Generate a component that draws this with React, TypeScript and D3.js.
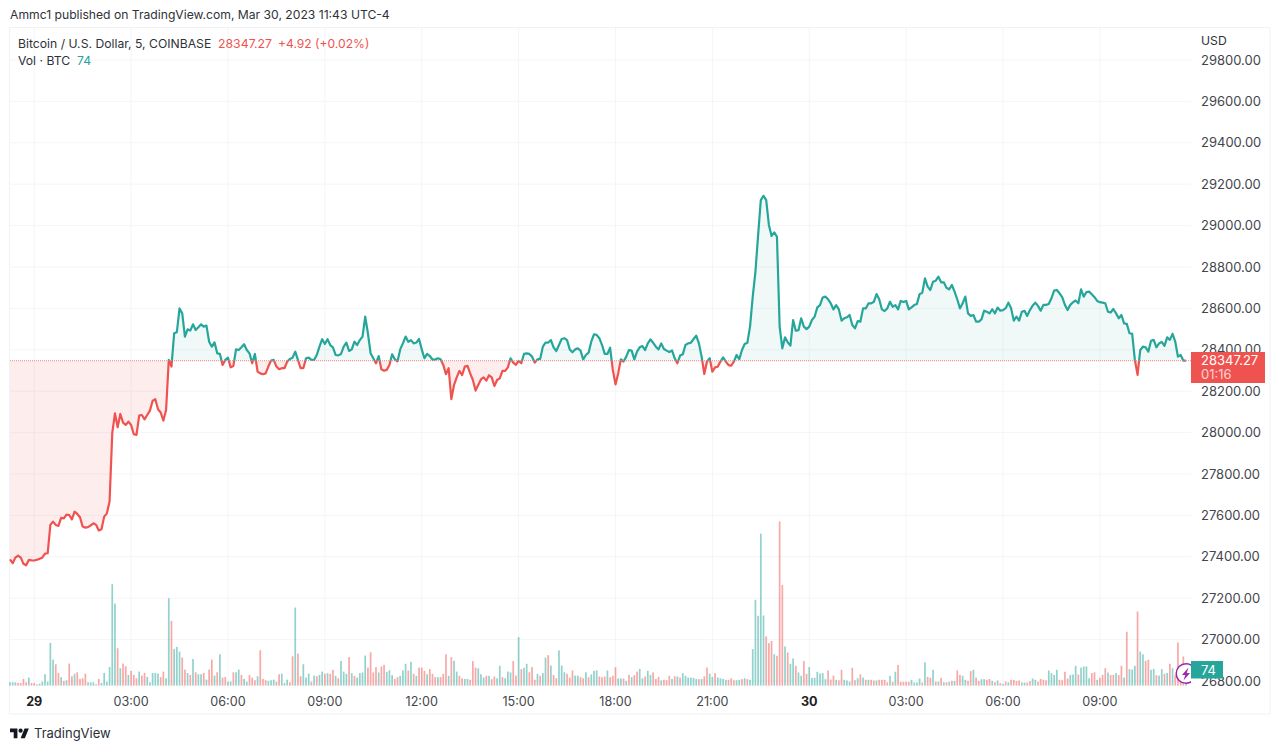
import React from "react";
import * as d3 from "d3";

const closeA = [27388,27369,27396,27406,27396,27366,27359,27385,27383,27382,27386,27390,27396,27415,27417,27554,27570,27554,27549,27588,27586,27604,27602,27581,27618,27607,27591,27546,27541,27543,27552,27562,27554,27527,27533,27594,27610,27667,27997,28093,28026,28090,28048,28037,28053,28037,27992,27989,28082,28085,28064,28085,28106,28154,28161,28113,28097,28058,28109,28351,28319,28480,28485,28600,28576,28464,28499,28493,28523,28496,28509,28523,28512,28517,28439,28415,28436,28383,28380,28327,28351,28362,28315,28322,28402,28399,28412,28427,28399,28383,28335,28380,28295,28286,28282,28286,28319,28348,28351,28319,28306,28311,28311,28343,28356,28362,28391,28351,28311,28311,28359,28362,28351,28351,28375,28415];
const closeB = [28451,28428,28451,28423,28412,28375,28373,28380,28415,28435,28394,28402,28439,28423,28447,28464,28560,28480,28383,28359,28335,28370,28306,28299,28303,28327,28378,28354,28344,28402,28431,28464,28439,28447,28431,28435,28452,28402,28359,28380,28370,28353,28353,28359,28354,28327,28282,28311,28162,28230,28267,28298,28278,28319,28322,28286,28254,28203,28230,28257,28267,28251,28277,28267,28225,28254,28262,28298,28298,28315,28359,28338,28327,28346,28335,28380,28383,28380,28367,28338,28354,28356,28415,28435,28435,28447,28412,28394,28423,28452,28456,28447,28402,28388,28402,28407,28396,28354,28375,28386,28439,28475,28472,28456,28423,28380,28380,28410,28303,28233,28286,28354,28343,28367,28399,28396,28354,28391,28412];
const closeC = [28418,28399,28431,28450,28434,28415,28402,28431,28404,28396,28389,28397,28359,28335,28372,28378,28423,28431,28434,28452,28468,28431,28367,28283,28343,28359,28294,28315,28318,28343,28363,28343,28326,28323,28343,28375,28355,28399,28428,28434,28512,28657,28777,28954,29123,29144,29123,29003,28950,28967,28946,28512,28407,28460,28436,28420,28544,28492,28495,28552,28512,28500,28512,28544,28560,28605,28616,28653,28657,28644,28624,28595,28616,28595,28541,28552,28557,28568,28520,28504,28539,28536,28600,28600,28624,28624,28632,28669,28644,28595,28587,28600,28632,28608,28616,28595,28636,28631,28636,28595,28605,28616,28621,28669,28676,28745,28705,28689,28729,28734,28753,28726,28726,28700,28692,28713,28681,28644,28600];
const closeD = [28625,28657,28576,28564,28568,28536,28536,28547,28589,28584,28576,28596,28576,28604,28589,28592,28601,28628,28601,28541,28560,28541,28584,28588,28564,28592,28613,28628,28612,28589,28617,28617,28621,28649,28686,28689,28673,28654,28617,28592,28617,28630,28638,28625,28692,28657,28679,28681,28668,28654,28636,28630,28628,28625,28584,28580,28597,28576,28552,28568,28528,28525,28480,28477,28351,28279,28399,28415,28412,28391,28444,28448,28412,28431,28438,28419,28460,28448,28477,28440,28367,28375,28348,28347.27];

const volumeA = [15,15,15,12,12,30,15,36,12,12,6,9,18,51,18,192,117,96,57,38,21,24,99,42,53,60,30,33,53,15,15,15,6,30,12,57,18,84,456,369,168,78,99,87,48,66,48,33,63,45,57,39,15,57,57,54,38,63,33,393,291,165,174,153,126,72,57,48,120,60,51,51,57,27,72,117,45,60,141,36,39,18,18,60,60,72,48,30,18,48,36,24,42,159,30,24,21,24,27,18,51,54,12,27,15,132,351,144,42,96,36,54,18,45,42,48];
const volumeB = [63,53,56,53,71,44,33,111,63,53,128,56,44,36,56,59,135,81,150,59,83,59,86,93,62,69,47,30,38,44,68,98,68,107,53,44,81,81,66,51,74,53,38,38,38,53,141,44,128,111,63,44,33,30,30,26,110,81,78,51,36,44,44,29,41,33,89,38,33,63,59,110,45,218,74,80,98,60,83,26,53,44,56,126,137,90,48,33,158,90,60,53,36,68,45,45,38,33,60,38,50,66,69,41,38,41,68,38,44,83,32,32,32,21,48,38,47,63,75];
const volumeC = [33,41,66,48,59,30,39,23,26,24,44,30,42,41,36,56,44,36,36,35,30,29,30,42,81,54,39,56,36,33,30,26,26,33,24,24,26,29,33,29,26,164,386,314,683,315,221,191,201,141,134,738,453,176,149,98,122,89,59,44,110,53,83,35,35,62,54,56,29,68,27,45,26,24,71,26,23,18,80,24,33,51,36,26,26,26,23,23,26,26,26,15,44,17,62,93,17,17,17,17,26,14,14,32,14,105,39,35,71,18,18,35,15,15,17,21,21,68,48];
const volumeD = [44,26,21,65,71,36,21,29,29,26,30,21,15,23,11,8,18,15,26,26,21,23,14,14,14,20,32,26,18,30,26,24,68,56,48,71,26,24,62,32,48,50,89,50,81,86,86,33,56,60,26,35,48,78,59,48,48,56,47,89,36,242,74,72,89,333,153,141,111,116,71,75,47,45,74,53,57,98,78,48,194,78,131,74];

const directionA = "uuu dddd u dd uuuuuuu dd u d u dd u dddd uuu dd uuuuuu d u dd u ddd u dd uuuuu dd uu d uuu dd u d u d uu d u dd u d u dd uu d uu d uu ddd u ddd uuu dd uuu dd u dd uuu d u d u";
const directionB = "u d u d d u d u u u d u d u u u u d d d d u d d u u u d d u u u d u d u d d d u d d d u d d d u d u u d d u u d d d u u u d u d d u u d u u u d d u d u u d d d u d u u d u d d u u u d d d u u d d u d u u u d d d u d d d u u d u d u d d u";
const directionC = "u d u u d d d u d d d u d u d u u u u u u d u d d u u d u u u u d d d u u d u d u u u u u u d d d u d d d u d u u d u u d d u u u u u u u d d d u d d u u u d d u d u d u d d u d d d d u d u d d d d d u u u u d u d d u d u d u d u d u d d";
const directionD = "u u d d u d d u u d d u d u d u d u d d d d u u d d u u d d d d u u u u d d d d u u u d u u u u d d u d d d u d d u d d u d u u u d u u d d u u d u u d u d u d d d d u";

const priceTicks = d3.range(26800, 29801, 200);
const timeTickHours = [0, 3, 6, 9, 12, 15, 18, 21, 24, 27, 30, 33];
const timeTickLabels = ["29", "03:00", "06:00", "09:00", "12:00", "15:00", "18:00", "21:00", "30", "03:00", "06:00", "09:00"];
const basePrice = 28347.27;
const firstTickBar = 9;
const barsPerHour = 12;

const closes = [...closeA, ...closeB, ...closeC, ...closeD];
const volumes = [...volumeA, ...volumeB, ...volumeC, ...volumeD];
const strip = (s: string) => s.replace(/\s/g, "");
const directions = [directionA, directionB, directionC, directionD].map(strip).join("");

const UP = "#26a69a";
const DOWN = "#ef5350";
const FONT = "Inter, 'Noto Sans', sans-serif";
const GRID = "#f4f5f8";
const TEXT = "#2f3238";

export default function App() {
  const left = 10, paneRight = 1191, lastX = 1186;
  const x = d3.scaleLinear().domain([0, closes.length - 1]).range([left, lastX]);
  const y = d3.scaleLinear().domain([26800, 29800]).range([681, 60]);
  const vol = d3.scaleLinear().domain([0, 738]).range([685.6, 521.5]);
  const line = d3.line<number>().x((_, i) => x(i)).y((d) => y(d));
  const area = d3.area<number>().x((_, i) => x(i)).y0(y(basePrice)).y1((d) => y(d));
  const baseY = y(basePrice);
  const lineD = line(closes) || "";
  const areaD = area(closes) || "";
  return (
    <svg width={1280} height={750} style={{ position: "fixed", left: 0, top: 0, background: "#fff" }} fontFamily={FONT}>
      <defs>
        <clipPath id="above"><rect x={0} y={0} width={paneRight} height={baseY} /></clipPath>
        <clipPath id="below"><rect x={0} y={baseY} width={paneRight} height={750 - baseY} /></clipPath>
        <clipPath id="pane"><rect x={0} y={0} width={paneRight} height={750} /></clipPath>
      </defs>
      <text x={10} y={19} fontSize={12.15} fill={TEXT}>Ammc1 published on TradingView.com, Mar 30, 2023 11:43 UTC-4</text>
      <rect x={9.5} y={27.5} width={1260.5} height={686.5} fill="none" stroke="#f0f2f6" />
      {priceTicks.map((t) => <line key={t} x1={10} x2={paneRight} y1={y(t)} y2={y(t)} stroke={GRID} />)}
      {timeTickHours.map((h) => {
        const xx = x(firstTickBar + h * barsPerHour);
        return <line key={h} x1={xx} x2={xx} y1={28} y2={688} stroke={GRID} />;
      })}
      <path d={areaD} fill={UP} fillOpacity={0.07} clipPath="url(#above)" />
      <path d={areaD} fill={DOWN} fillOpacity={0.1} clipPath="url(#below)" />
      {volumes.map((v, i) => (
        <rect key={i} x={x(i) - 0.85} width={1.7} y={vol(v)} height={vol(0) - vol(v)}
          fill={directions[i] === "d" ? DOWN : UP} fillOpacity={0.5} />
      ))}
      <line x1={10} x2={paneRight} y1={baseY} y2={baseY} stroke={DOWN} strokeWidth={1} strokeDasharray="1 1" strokeOpacity={0.7} />
      <path d={lineD} fill="none" stroke={UP} strokeWidth={2.2} strokeLinejoin="round" clipPath="url(#above)" />
      <path d={lineD} fill="none" stroke={DOWN} strokeWidth={2.2} strokeLinejoin="round" clipPath="url(#below)" />
      <text x={18} y={48} fontSize={12.2} fill={TEXT}>Bitcoin / U.S. Dollar, 5, COINBASE</text>
      <text x={218} y={48} fontSize={12.3} fill={DOWN}>28347.27</text>
      <text x={278} y={48} fontSize={12.1} fill={DOWN}>+4.92 (+0.02%)</text>
      <text x={18} y={65} fontSize={12.2} fill={TEXT}>Vol · BTC</text>
      <text x={77} y={65} fontSize={12.2} fill={UP}>74</text>
      <text x={1201} y={45} fontSize={12.2} fill={TEXT}>USD</text>
      {priceTicks.map((t) => (
        <text key={t} x={1201} y={y(t) + 4.6} fontSize={13} fill="#43464d">{t.toFixed(2)}</text>
      ))}
      {timeTickHours.map((h, i) => {
        const bold = timeTickLabels[i].length === 2;
        return (
          <text key={h} x={x(firstTickBar + h * barsPerHour)} y={706} textAnchor="middle" fontSize={12.6}
            fontWeight={bold ? 700 : 400} fill={bold ? "#1e2026" : "#43464d"}>{timeTickLabels[i]}</text>
        );
      })}
      <g clipPath="url(#pane)">
        <circle cx={1186} cy={673.5} r={9.8} fill="#fff" stroke="#9c27b0" strokeWidth={1.5} />
        <path d="M1188.5 667.5 L1182 675 L1185.3 675 L1183.5 680.5 L1190 673 L1186.7 673 Z" fill="#9c27b0" />
      </g>
      <rect x={1191} y={352} width={74} height={31} fill={DOWN} />
      <text x={1201} y={365} fontSize={13} fill="#fff">28347.27</text>
      <text x={1201} y={379} fontSize={13} fill="#fff" fillOpacity={0.75}>01:16</text>
      <rect x={1191} y={661} width={32} height={17.5} fill={UP} />
      <text x={1201} y={674.5} fontSize={13} fill="#fff">74</text>
      <g transform="translate(10 726.5) scale(0.53)" fill="#131722">
        <path d="M14 22H7V11H0V4h14v18zM28 22h-8l7.5-18h8L28 22z" />
        <circle cx={20} cy={8} r={4} />
      </g>
      <text x={34} y={737.5} fontSize={13} fill="#2a2e39">TradingView</text>
    </svg>
  );
}
